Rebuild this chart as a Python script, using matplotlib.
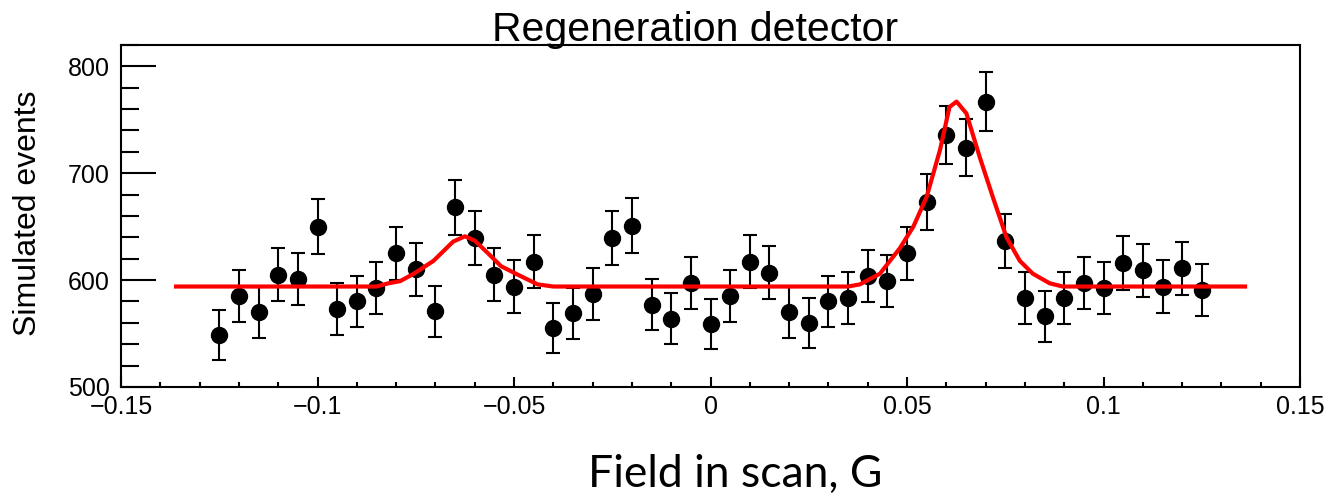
import matplotlib.pyplot as plt
from matplotlib.ticker import MultipleLocator
import numpy as np

# data
field = [-0.125, -0.12, -0.115, -0.11, -0.105, -0.1, -0.095, -0.09, -0.085, -0.08,
         -0.075, -0.07, -0.065, -0.06, -0.055, -0.05, -0.045, -0.04, -0.035, -0.03,
         -0.025, -0.02, -0.015, -0.01, -0.005, 0.0, 0.005, 0.01, 0.015, 0.02,
         0.025, 0.03, 0.035, 0.04, 0.045, 0.05, 0.055, 0.06, 0.065, 0.07,
         0.075, 0.08, 0.085, 0.09, 0.095, 0.1, 0.105, 0.11, 0.115, 0.12, 0.125]
events = [549, 585, 570, 605, 601, 650, 573, 580, 593, 625,
          610, 571, 668, 639, 605, 594, 617, 555, 569, 587,
          639, 651, 577, 564, 597, 559, 585, 617, 607, 570,
          560, 580, 583, 604, 599, 625, 673, 736, 724, 767,
          637, 583, 566, 583, 597, 593, 616, 609, 594, 611, 591]

# fit curve vertices (red line)
fit_x = [-0.136, -0.085, -0.082, -0.079, -0.0755, -0.0705, -0.0655, -0.0625, -0.060,
         -0.0566, -0.0533, -0.049, -0.044, -0.040, 0.035, 0.038, 0.0431, 0.0482,
         0.0516, 0.055, 0.0584, 0.0608, 0.0626, 0.0651, 0.0685, 0.0718, 0.0753,
         0.0787, 0.082, 0.0863, 0.0896, 0.136]
fit_y = [594, 594, 597, 599, 606, 618, 636, 641, 637,
         625, 613, 605, 596, 594, 594, 596, 606, 630,
         650, 678, 722, 762, 767, 756, 715, 678, 640,
         618, 606, 597, 594, 594]

xtick_pos = [-0.15, -0.1, -0.05, 0, 0.05, 0.1, 0.15]
xtick_labels = ["\u22120.15", "\u22120.1", "\u22120.05", "0", "0.05", "0.1", "0.15"]
ytick_pos = [500, 600, 700, 800]

plt.rcParams['font.family'] = ['Liberation Sans', 'DejaVu Sans']

fig = plt.figure(figsize=(13.27, 4.96), dpi=100)
ax = fig.add_axes([0.0912, 0.2198, 0.8885, 0.6895])

errs = np.sqrt(events)
ax.errorbar(field, events, yerr=errs, fmt='o', color='black', markersize=11.5,
            elinewidth=1.5, capsize=5, capthick=1.5, zorder=2)
ax.plot(fit_x, fit_y, color='#ff0000', lw=3, zorder=3)

ax.set_xlim(-0.15, 0.15)
ax.set_ylim(500, 820)
ax.set_xticks(xtick_pos)
ax.set_xticklabels(xtick_labels)
ax.set_yticks(ytick_pos)
ax.xaxis.set_minor_locator(MultipleLocator(0.01))
ax.yaxis.set_minor_locator(MultipleLocator(20))

ax.tick_params(axis='both', which='both', direction='in', top=False, right=False,
               labelsize=18, width=1.5)
ax.tick_params(axis='y', which='major', length=25, pad=8)
ax.tick_params(axis='y', which='minor', length=13)
ax.tick_params(axis='x', which='major', length=7, pad=6)
ax.tick_params(axis='x', which='minor', length=3.6)
for s in ax.spines.values():
    s.set_linewidth(1.5)

fig.text(0.5237, 0.917, "Regeneration detector", fontsize=29.5, ha='center', va='baseline')
fig.text(0.021, 0.5706, "Simulated events", fontsize=23, rotation=90, ha='center', va='center')
fig.text(0.554, 0.018, "Field in scan, G", fontsize=32, ha='center', va='baseline',
         family=['Lato', 'DejaVu Sans'])

fig.savefig("out.png", dpi=100)
